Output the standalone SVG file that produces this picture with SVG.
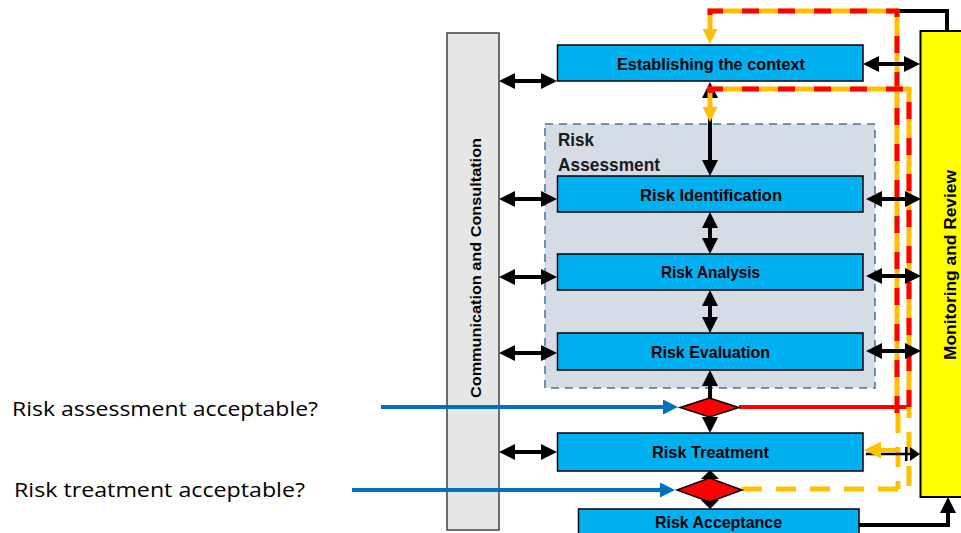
<svg xmlns="http://www.w3.org/2000/svg" width="961" height="533" viewBox="0 0 961 533">
<style>
.box{fill:#00B0F0;stroke:#000;stroke-width:1.5}
.lbl{font-family:"Liberation Sans",Arial,sans-serif;font-weight:bold;font-size:16.5px;fill:#000;text-anchor:middle}
.blk{stroke:#000;stroke-width:4;fill:none}
.dbl{marker-start:url(#ah);marker-end:url(#ah)}
.ylw{stroke:#FFC000;stroke-width:5;fill:none}
.red{stroke:#FF0000;stroke-width:5;fill:none;stroke-dasharray:17 19}
.ydash{stroke:#FFC000;stroke-width:5;fill:none;stroke-dasharray:20 14}
.blue{stroke:#0070C0;stroke-width:4;fill:none;marker-end:url(#bh)}
.dia{fill:#FF0000;stroke:#000;stroke-width:1.5}
.side{font-family:"Open Sans","Liberation Sans",sans-serif;font-size:20px;fill:#000}
</style>
<defs>
<marker id="ah" viewBox="0 0 16 16" refX="3" refY="8" markerWidth="16" markerHeight="16" markerUnits="userSpaceOnUse" orient="auto-start-reverse"><path d="M0,0 L16,8 L0,16 z" fill="#000"/></marker>
<marker id="yh" viewBox="0 0 15 15" refX="3" refY="7.5" markerWidth="15" markerHeight="15" markerUnits="userSpaceOnUse" orient="auto"><path d="M0,0 L15,7.5 L0,15 z" fill="#FFC000"/></marker>
<marker id="yh2" viewBox="0 0 17 17" refX="3" refY="8.5" markerWidth="17" markerHeight="17" markerUnits="userSpaceOnUse" orient="auto"><path d="M0,0 L17,8.5 L0,17 z" fill="#FFC000"/></marker>
<marker id="bh" viewBox="0 0 15 15" refX="3" refY="7.5" markerWidth="15" markerHeight="15" markerUnits="userSpaceOnUse" orient="auto"><path d="M0,0 L15,7.5 L0,15 z" fill="#0070C0"/></marker>
</defs>

<g id="communication">
<rect x="447" y="33" width="52" height="497" fill="#E7E6E6" stroke="#404040" stroke-width="1.5"/>
<text class="lbl" style="font-size:15.5px" transform="translate(481,268) rotate(-90)" textLength="260" lengthAdjust="spacingAndGlyphs">Communication and Consultation</text>
</g>

<g id="monitoring">
<rect x="920.5" y="31" width="60" height="466" fill="#FFFF00" stroke="#000" stroke-width="2"/>
<text class="lbl" style="font-size:17px" transform="translate(956,265) rotate(-90)" textLength="190" lengthAdjust="spacingAndGlyphs">Monitoring and Review</text>
</g>

<g id="risk-assessment">
<rect x="545" y="124" width="330" height="264" fill="#D6DCE5" stroke="#41719C" stroke-width="1.5" stroke-dasharray="8 6"/>
<text x="558" y="146" font-family="Liberation Sans,Arial,sans-serif" font-weight="bold" font-size="18" fill="#1a1a1a" textLength="36" lengthAdjust="spacingAndGlyphs">Risk</text>
<text x="558" y="171" font-family="Liberation Sans,Arial,sans-serif" font-weight="bold" font-size="18" fill="#1a1a1a" textLength="102" lengthAdjust="spacingAndGlyphs">Assessment</text>
</g>

<g id="establishing">
<rect class="box" x="557.5" y="45" width="305.5" height="36"/>
<text class="lbl" x="711" y="69.5" textLength="188" lengthAdjust="spacingAndGlyphs">Establishing the context</text>
</g>
<g id="identification">
<rect class="box" x="557.5" y="176" width="305.5" height="36"/>
<text class="lbl" x="711" y="200.5" textLength="142" lengthAdjust="spacingAndGlyphs">Risk Identification</text>
</g>
<g id="analysis">
<rect class="box" x="557.5" y="254" width="305.5" height="36"/>
<text class="lbl" x="710.5" y="278" textLength="99" lengthAdjust="spacingAndGlyphs">Risk Analysis</text>
</g>
<g id="evaluation">
<rect class="box" x="557.5" y="333" width="305.5" height="37"/>
<text class="lbl" x="710.5" y="357.5" textLength="119" lengthAdjust="spacingAndGlyphs">Risk Evaluation</text>
</g>
<g id="treatment">
<rect class="box" x="557.5" y="433" width="305.5" height="38"/>
<text class="lbl" x="710.5" y="458" textLength="117" lengthAdjust="spacingAndGlyphs">Risk Treatment</text>
</g>
<g id="acceptance">
<rect class="box" x="578.5" y="509" width="280.5" height="36"/>
<text class="lbl" x="718.5" y="528" textLength="127" lengthAdjust="spacingAndGlyphs">Risk Acceptance</text>
</g>

<g id="connectors">
<path class="blk dbl" d="M710,95 V163"/>
<path class="blk dbl" d="M710,225 V241"/>
<path class="blk dbl" d="M710,303 V320"/>
<path class="blk" d="M710,398 V383" marker-end="url(#ah)"/>
<path class="blk" d="M710,416 V420" marker-end="url(#ah)"/>
<path d="M701,479 L710,470 L719,479 z" fill="#000"/>
<path d="M701,500 L719,500 L710,509 z" fill="#000"/>
<path class="blk" d="M897,11 H947 V31"/>
<path class="blk" d="M859,525 H948 V510" marker-end="url(#ah)"/>

<path class="ylw" d="M897,413 V11 H710 V32" marker-end="url(#yh)"/>
<path class="red" d="M897,413 V11 H710 V32"/>
<path class="ylw" d="M909,407 V89 H710 V110" marker-end="url(#yh)"/>
<path class="red" d="M909,407 V89 H710 V110"/>
<path d="M739,407 H911" stroke="#FF0000" stroke-width="4" fill="none"/>
<path class="ydash" d="M742,489 H909 V407"/>
<path class="ydash" d="M898,413 V489"/>

<path d="M866,454 H911" stroke="#000" stroke-width="2.5" fill="none"/>
<path d="M910,447 L920,454 L910,461 z" fill="#000"/>
<rect x="905" y="447" width="2.5" height="14" fill="#000"/>
<path d="M898,450 H878" stroke="#FFC000" stroke-width="4" fill="none" marker-end="url(#yh2)"/>

<path class="blk dbl" d="M512,81 H544"/>
<path class="blk dbl" d="M512,199 H544"/>
<path class="blk dbl" d="M512,277 H544"/>
<path class="blk dbl" d="M512,353 H544"/>
<path class="blk dbl" d="M512,452 H544"/>
<path class="blk dbl" d="M876,64 H907"/>
<path class="blk dbl" d="M879,199 H908"/>
<path class="blk dbl" d="M879,276 H908"/>
<path class="blk dbl" d="M879,351 H908"/>

<path class="blue" d="M381,407 H666"/>
<path class="blue" d="M352,490 H663"/>
</g>

<g id="decision-assessment">
<path class="dia" d="M680,407.5 L709.5,398 L739,407.5 L709.5,417 z"/>
</g>
<g id="decision-treatment">
<path class="dia" d="M677,490 L709.5,478 L742,490 L709.5,502 z"/>
</g>

<text class="side" x="12" y="416" textLength="306" lengthAdjust="spacingAndGlyphs">Risk assessment  acceptable?</text>
<text class="side" x="14" y="497" textLength="291" lengthAdjust="spacingAndGlyphs">Risk treatment acceptable?</text>
</svg>
